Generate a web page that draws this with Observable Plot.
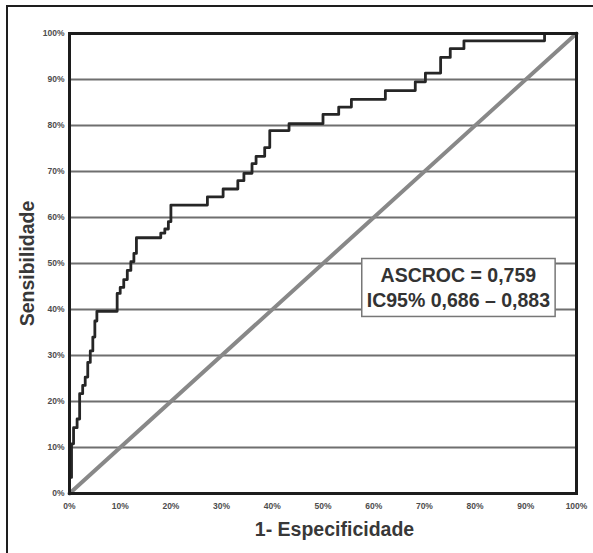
<!DOCTYPE html>
<html>
<head>
<meta charset="utf-8">
<script src="https://cdn.jsdelivr.net/npm/d3@7"></script>
<script src="https://cdn.jsdelivr.net/npm/@observablehq/plot@0.6"></script>
<style>
  body { margin: 0; background: #fff; }
  #chart { position: relative; width: 593px; height: 553px; overflow: hidden; background: #fff; }
  #chart .sheet {
    position: absolute; left: 6px; top: 5px; right: -20px; bottom: -20px;
    border-top: 2px solid #1e1e1e; border-left: 2px solid #1e1e1e;
  }
  #chart svg { position: absolute; left: 0; top: 0; }
  #chart svg g[aria-label$="tick label"] text { font-weight: bold; }
</style>
</head>
<body>
<div id="chart"><div class="sheet"></div></div>
<script>
// ROC curve vertices (%), 1 - specificity vs. sensitivity, drawn as a staircase
const fpr = [0, 0, 0.4, 0.8, 1.5, 2.0, 2.6, 3.1, 3.6, 4.1, 4.6, 5.0, 5.4,
             9.4, 10.0, 10.7, 11.4, 12.1, 12.7, 13.2, 18.0, 18.8, 19.5, 20.0,
             27.2, 30.3, 33.2, 34.4, 36.0, 36.8, 38.5, 39.5, 43.3,
             50.0, 53.1, 55.6, 62.3, 68.2, 70.2, 73.2, 75.1, 77.8, 93.7, 100];
const tpr = [0, 3.5, 10.8, 14.3, 16.2, 21.7, 23.5, 25.3, 28.5, 31.0, 34.0, 37.5, 39.6,
             43.5, 44.8, 46.5, 48.5, 50.4, 52.2, 55.6, 56.6, 57.5, 59.1, 62.7,
             64.5, 66.2, 68.0, 69.6, 71.7, 73.3, 75.2, 78.9, 80.4,
             82.4, 84.0, 85.7, 87.6, 89.5, 91.4, 94.8, 96.7, 98.4, 100, 100];

const axisTicks = [0, 10, 20, 30, 40, 50, 60, 70, 80, 90, 100];
const gridLevels = [10, 20, 30, 40, 50, 60, 70, 80, 90];
const chanceLine = [0, 100];

const xTitle = "1- Especificidade";
const yTitle = "Sensibilidade";
const aucLines = ["ASCROC = 0,759", "IC95% 0,686 – 0,883"];

const roc = fpr.map((x, i) => ({x, y: tpr[i]}));
const diagonal = chanceLine.map(v => ({x: v, y: v}));
const pct = d => d + "%";
const font = "'Liberation Sans', Arial, Helvetica, sans-serif";

const chart = Plot.plot({
  width: 593,
  height: 553,
  marginLeft: 69,
  marginRight: 17,
  marginTop: 33,
  marginBottom: 60,
  style: {fontFamily: font, fontSize: "8.5px", color: "#4d4d4d", background: "transparent"},
  x: {domain: [0, 100], ticks: axisTicks, tickFormat: pct, tickSize: 0, tickPadding: 9, label: null},
  y: {domain: [0, 100], ticks: axisTicks, tickFormat: pct, tickSize: 0, tickPadding: 5, label: null},
  marks: [
    Plot.ruleY(gridLevels, {stroke: "#6f6f6f", strokeWidth: 1.8}),
    Plot.line(diagonal, {x: "x", y: "y", stroke: "#888888", strokeWidth: 4}),
    Plot.line(roc, {x: "x", y: "y", curve: "step-after", stroke: "#262626", strokeWidth: 2.8}),
    Plot.frame({stroke: "#1c1c1c", strokeWidth: 3}),
    Plot.text([aucLines.join("\n")], {
      x: 76.7, y: 45, text: d => d, lineAnchor: "middle", lineHeight: 1.28,
      fontSize: 19.5, fontWeight: "bold", fill: "#333"
    }),
    Plot.text([xTitle], {
      frameAnchor: "bottom", text: d => d, lineAnchor: "bottom", dy: 42, dx: 11.5,
      fontSize: 19.5, fontWeight: "bold", fill: "#383838"
    }),
    Plot.text([yTitle], {
      frameAnchor: "left", text: d => d, rotate: -90, textAnchor: "middle",
      lineAnchor: "bottom", dx: -36,
      fontSize: 19.5, fontWeight: "bold", fill: "#383838"
    })
  ]
});

document.getElementById("chart").appendChild(chart);

// White box with a grey outline behind the AUC annotation, sized to its text
const aucText = Array.from(chart.querySelectorAll("text"))
  .find(t => t.textContent.includes("ASCROC"));
if (aucText) {
  const b = aucText.getBBox();
  const padX = 5, padY = 5.5;
  const box = document.createElementNS("http://www.w3.org/2000/svg", "rect");
  box.setAttribute("x", b.x - padX);
  box.setAttribute("y", b.y - padY);
  box.setAttribute("width", b.width + 2 * padX);
  box.setAttribute("height", b.height + 2 * padY);
  box.setAttribute("fill", "#fff");
  box.setAttribute("stroke", "#777");
  box.setAttribute("stroke-width", 1.5);
  const tr = aucText.getAttribute("transform");
  if (tr) box.setAttribute("transform", tr);
  const group = aucText.closest("g[aria-label='text']") || aucText.parentNode;
  const groupTr = group.getAttribute("transform");
  if (groupTr) box.setAttribute("transform", groupTr + " " + (tr || ""));
  group.parentNode.insertBefore(box, group);
}
</script>
</body>
</html>
